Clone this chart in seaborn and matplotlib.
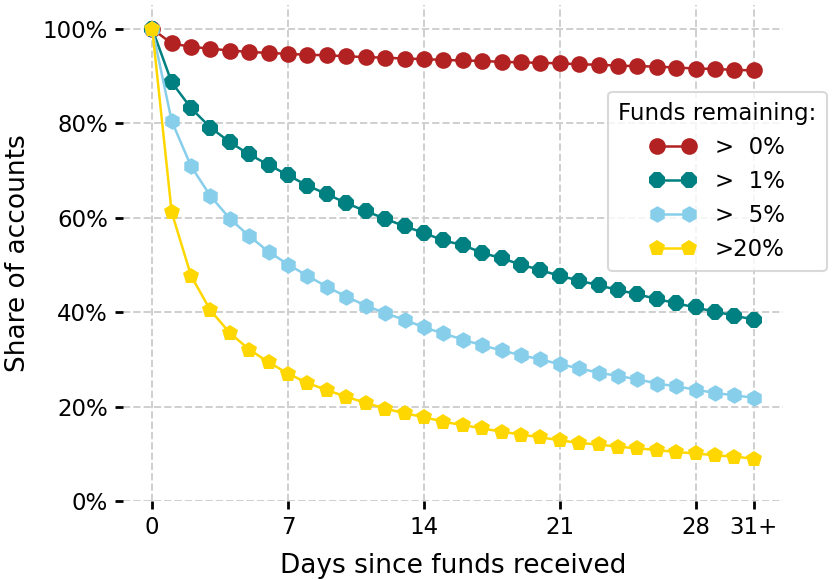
#!/usr/bin/env python3
# Share of accounts still holding funds, by days since funds were received.

import numpy as np
import pandas as pd
import seaborn as sns
import matplotlib
matplotlib.use("Agg")
import matplotlib.pyplot as plt

DAYS = list(range(32))
XTICKS = [0, 7, 14, 21, 28, 31]
XTICK_LABELS = ["0", "7", "14", "21", "28", "31+"]
YTICKS = [0, 20, 40, 60, 80, 100]

GT_0 = [100, 96.9, 96.2, 95.8, 95.4, 95.1, 94.9, 94.7, 94.5, 94.4, 94.2, 94.0,
        93.9, 93.7, 93.6, 93.4, 93.3, 93.2, 93.0, 92.9, 92.8, 92.7, 92.5, 92.4,
        92.2, 92.1, 92.0, 91.8, 91.6, 91.5, 91.3, 91.2]
GT_1 = [100, 88.7, 83.2, 79.1, 76.0, 73.4, 71.2, 69.0, 66.8, 65.0, 63.1, 61.4,
        59.8, 58.2, 56.8, 55.2, 54.2, 52.6, 51.4, 50.1, 48.9, 47.7, 46.7, 45.7,
        44.7, 43.8, 42.8, 41.9, 41.0, 40.1, 39.3, 38.4]
GT_5 = [100, 80.5, 70.9, 64.6, 59.8, 56.1, 52.8, 50.1, 47.7, 45.4, 43.3, 41.4,
        39.8, 38.4, 36.8, 35.5, 34.2, 33.0, 31.9, 30.9, 30.0, 29.0, 28.1, 27.2,
        26.5, 25.8, 24.9, 24.3, 23.6, 22.9, 22.4, 21.9]
GT_20 = [100, 61.2, 47.7, 40.4, 35.6, 32.1, 29.4, 27.0, 25.0, 23.5, 22.1, 20.8,
         19.6, 18.6, 17.8, 16.8, 16.1, 15.4, 14.7, 14.1, 13.5, 12.9, 12.3, 12.0,
         11.5, 11.2, 10.8, 10.4, 10.1, 9.7, 9.4, 9.0]

SERIES = [
    (">  0%", GT_0, "#B22222", "o"),
    (">  1%", GT_1, "#008080", "8"),
    (">  5%", GT_5, "#87CEEB", "h"),
    (">20%", GT_20, "#FFD700", "p"),
]


def main():
    sns.set_theme(style="white")
    plt.rcParams["font.family"] = ["DejaVu Sans"]
    plt.rcParams["text.color"] = "black"
    plt.rcParams["axes.labelcolor"] = "black"
    plt.rcParams["xtick.color"] = "black"
    plt.rcParams["ytick.color"] = "black"

    fig = plt.figure(figsize=(8.32, 5.8), dpi=100)
    ax = fig.add_axes([0.148, 0.136, 0.793, 0.855])

    for label, vals, color, marker in SERIES:
        df = pd.DataFrame({"day": DAYS, "share": vals})
        sns.lineplot(data=df, x="day", y="share", ax=ax, color=color,
                     marker=marker, markersize=12, markeredgewidth=0,
                     linewidth=1.8, label=label)

    ax.set_xlim(-1.5, 32.5)
    ax.set_ylim(0, 105)
    ax.set_xticks(XTICKS)
    ax.set_xticklabels(XTICK_LABELS)
    ax.set_yticks(YTICKS)
    ax.set_yticklabels([f"{v}%" for v in YTICKS])

    ax.grid(True, linestyle="--", color="#cfcfcf", linewidth=1.4)
    ax.set_axisbelow(True)
    for side in ax.spines.values():
        side.set_visible(False)
    ax.tick_params(axis="both", which="major", length=6, width=2,
                   labelsize=16.5, pad=5, bottom=True, left=True)

    ax.set_xlabel("Days since funds received", fontsize=19, labelpad=10)
    ax.set_ylabel("Share of accounts", fontsize=19, labelpad=8)

    leg = ax.legend(title="Funds remaining:", loc="upper right",
                    bbox_to_anchor=(0.994, 0.842), bbox_transform=fig.transFigure,
                    borderaxespad=0.0,
                    fontsize=16.5, title_fontsize=16.5, numpoints=2,
                    frameon=True, fancybox=True, handlelength=2.0,
                    labelspacing=0.48, borderpad=0.45)
    leg.get_frame().set_edgecolor("#d0d0d0")
    leg.get_frame().set_linewidth(1.5)

    fig.savefig("out.png", dpi=100)


if __name__ == "__main__":
    main()
